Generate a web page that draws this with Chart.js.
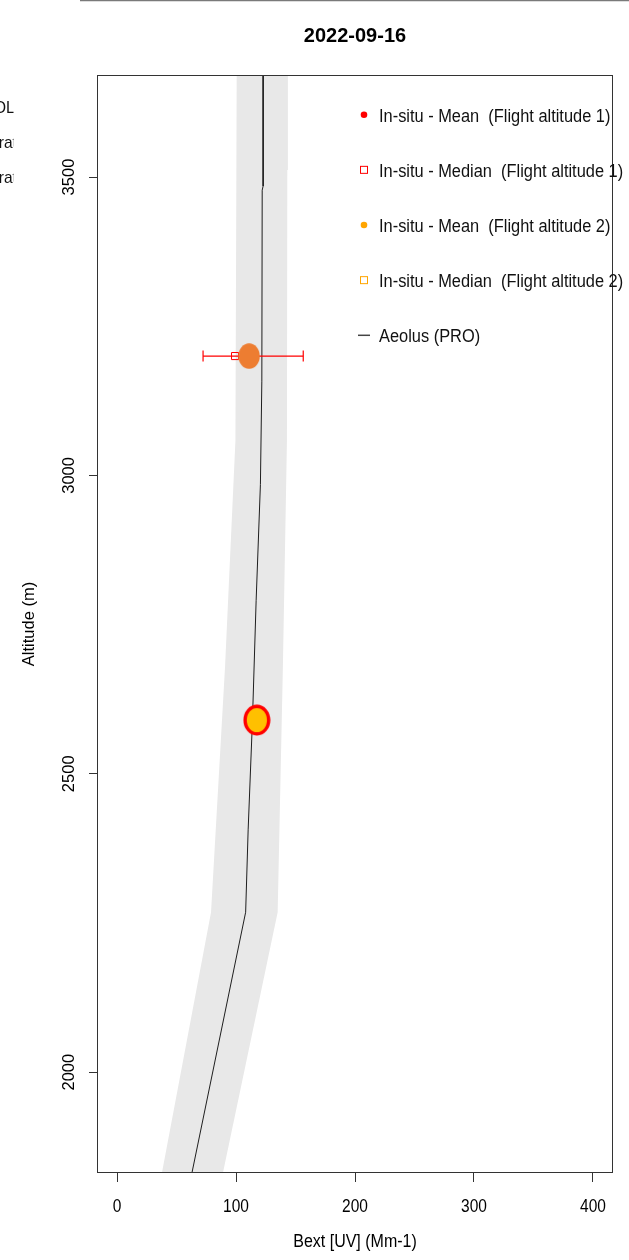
<!DOCTYPE html>
<html>
<head>
<meta charset="utf-8">
<script src="https://cdn.jsdelivr.net/npm/chart.js@4.4.1/dist/chart.umd.min.js"></script>
<style>
  html, body { margin: 0; padding: 0; background: #fff; overflow: hidden; }
  canvas { display: block; }
</style>
</head>
<body>
<canvas id="c" width="629" height="1260"></canvas>
<script>
// ---- labels ----
const chartTitle = '2022-09-16';
const xAxisTitle = 'Bext [UV] (Mm-1)';
const yAxisTitle = 'Altitude (m)';
const xTicks = [0, 100, 200, 300, 400];
const yTicks = [2000, 2500, 3000, 3500];

// ---- Aeolus (PRO) extinction profile ----
const aeolusAlt  = [3760, 3485, 3478, 3158, 2985, 2790, 2589, 2406, 2268, 1760];
const aeolusBext = [122.8, 122.8, 122.0, 121.7, 120.5, 116.9, 113.8, 110.2, 108.1, 55.6];

// ---- Aeolus uncertainty envelope ----
const bandAlt  = [3760, 3512, 3058, 2680, 2268, 1760];
const bandLow  = [100.7, 100.3, 99.5, 90.8, 79.0, 31.0];
const bandHigh = [143.6, 143.1, 142.8, 139.4, 135.0, 81.5];

// ---- in-situ measurements (flight altitude 1, flight altitude 2) ----
const flightAlt     = [3200, 2590];
const insituMean    = [111.0, 117.5];
const insituMedian1 = 99.2;
const insituRange1  = [72.3, 156.5];

// ---- legend ----
const legendLabels = [
  'In-situ - Mean  (Flight altitude 1)',
  'In-situ - Median  (Flight altitude 1)',
  'In-situ - Mean  (Flight altitude 2)',
  'In-situ - Median  (Flight altitude 2)',
  'Aeolus (PRO)'
];
const sideLabels = ['OL', 'ratio', 'ratio'];

const FONT = '"Liberation Sans", Arial, Helvetica, sans-serif';

// elliptical marker image used as a point style
function ellipseMarker(w, h, fill, stroke, lw) {
  const c = document.createElement('canvas');
  c.width = w; c.height = h;
  const g = c.getContext('2d');
  g.beginPath();
  g.ellipse(w / 2, h / 2, w / 2 - (lw ? lw / 2 + 0.5 : 0.3), h / 2 - (lw ? lw / 2 + 0.5 : 0.3), 0, 0, Math.PI * 2);
  g.fillStyle = fill;
  g.fill();
  if (lw) { g.lineWidth = lw; g.strokeStyle = stroke; g.stroke(); }
  return c;
}

const bandPoly = bandAlt.map((a, i) => ({ x: bandLow[i], y: a }))
  .concat(bandAlt.map((a, i) => ({ x: bandHigh[i], y: a })).reverse());
const aeolusPts = aeolusAlt.map((a, i) => ({ x: aeolusBext[i], y: a }));

function drawText(ctx, str, x, y, o) {
  o = Object.assign({ size: 16, bold: false, align: 'center', rot: 0, stretch: 1, color: '#000' }, o || {});
  ctx.save();
  ctx.translate(x, y);
  if (o.rot) ctx.rotate(o.rot);
  ctx.scale(1, o.stretch);
  ctx.font = (o.bold ? 'bold ' : '') + o.size + 'px ' + FONT;
  ctx.fillStyle = o.color;
  ctx.textAlign = o.align;
  ctx.textBaseline = 'alphabetic';
  ctx.fillText(str, 0, 0);
  ctx.restore();
}

const decor = {
  id: 'decor',
  afterDraw(chart) {
    const ctx = chart.ctx;
    const a = chart.chartArea;
    const xs = chart.scales.x, ys = chart.scales.y;
    const cx = (a.left + a.right) / 2;
    const cy = (a.top + a.bottom) / 2;
    ctx.save();

    // frame of the neighbouring panel
    ctx.strokeStyle = '#7a7a7a';
    ctx.lineWidth = 1.5;
    ctx.beginPath(); ctx.moveTo(80, 0.5); ctx.lineTo(629, 0.5); ctx.stroke();

    // leftover legend text of the neighbouring panel
    ctx.save();
    ctx.beginPath(); ctx.rect(0, 0, 13.5, 300); ctx.clip();
    drawText(ctx, sideLabels[0], 14.6, 112.7, { size: 15.5, align: 'right', stretch: 1.08, color: '#111' });
    drawText(ctx, sideLabels[1], -1.2, 147.7, { size: 15.5, align: 'left', stretch: 1.08, color: '#111' });
    drawText(ctx, sideLabels[2], -1.2, 183.3, { size: 15.5, align: 'left', stretch: 1.08, color: '#111' });
    ctx.restore();

    // plot box
    ctx.strokeStyle = '#333';
    ctx.lineWidth = 1;
    ctx.strokeRect(Math.round(a.left) - 0.5, Math.round(a.top) + 0.5,
                   Math.round(a.right - a.left) + 1, Math.round(a.bottom - a.top) - 1);

    // title
    drawText(ctx, chartTitle, cx, 42, { size: 20, bold: true, stretch: 1.05 });

    // x tick labels
    xTicks.forEach(v => drawText(ctx, String(v), xs.getPixelForValue(v), 1212, { size: 15.5, stretch: 1.15 }));
    // y tick labels (rotated)
    yTicks.forEach(v => drawText(ctx, String(v), 74, ys.getPixelForValue(v), { size: 16.5, rot: -Math.PI / 2 }));

    // axis titles
    drawText(ctx, xAxisTitle, cx, 1247, { size: 16, stretch: 1.1 });
    drawText(ctx, yAxisTitle, 34.3, cy, { size: 16.5, rot: -Math.PI / 2 });

    // legend
    const lx = 364, tx = 379, by0 = 121.7, step = 55.15;
    legendLabels.forEach((lab, i) => {
      const by = by0 + i * step;
      const sy = by - 7;
      if (i === 0 || i === 2) {
        ctx.fillStyle = i === 0 ? '#ff0000' : '#ffa500';
        ctx.beginPath(); ctx.arc(lx, sy, 3.3, 0, Math.PI * 2); ctx.fill();
      } else if (i === 1 || i === 3) {
        ctx.strokeStyle = i === 1 ? '#ff0000' : '#ffa500';
        ctx.lineWidth = 1;
        ctx.strokeRect(lx - 3.5, sy - 3.5, 7, 7);
      } else {
        ctx.strokeStyle = '#444';
        ctx.lineWidth = 1.5;
        ctx.beginPath(); ctx.moveTo(lx - 6, sy); ctx.lineTo(lx + 6, sy); ctx.stroke();
      }
      drawText(ctx, lab, tx, by, { size: 16.4, align: 'left', stretch: 1.08, color: '#111' });
    });

    ctx.restore();
  }
};

new Chart(document.getElementById('c'), {
  type: 'scatter',
  data: {
    datasets: [
      {
        label: 'Aeolus uncertainty',
        data: bandPoly,
        showLine: true,
        fill: 'shape',
        backgroundColor: '#e8e8e8',
        borderColor: 'rgba(0,0,0,0)',
        borderWidth: 0,
        pointRadius: 0,
        tension: 0,
        order: 6
      },
      {
        label: 'Aeolus (PRO)',
        data: aeolusPts,
        showLine: true,
        fill: false,
        borderColor: '#1e1e1e',
        borderWidth: 1,
        pointRadius: 0,
        tension: 0,
        order: 5
      },
      {
        label: 'In-situ range (Flight altitude 1)',
        data: insituRange1.map(v => ({ x: v, y: flightAlt[0] })),
        showLine: true,
        borderColor: '#ff0000',
        borderWidth: 1.2,
        pointStyle: 'line',
        pointRotation: 90,
        pointRadius: 5.5,
        pointBorderColor: '#ff0000',
        pointBorderWidth: 1.2,
        order: 4
      },
      {
        label: 'In-situ - Median (Flight altitude 1)',
        data: [{ x: insituMedian1, y: flightAlt[0] }],
        pointStyle: 'rect',
        pointRadius: 5,
        pointBorderColor: '#ff0000',
        pointBackgroundColor: 'rgba(255,255,255,0)',
        pointBorderWidth: 1,
        order: 3
      },
      {
        label: 'In-situ - Mean (Flight altitude 1)',
        data: [{ x: insituMean[0], y: flightAlt[0] }],
        pointStyle: ellipseMarker(22, 26, '#ed7d31'),
        pointRadius: 10,
        order: 2
      },
      {
        label: 'In-situ - Mean (Flight altitude 2)',
        data: [{ x: insituMean[1], y: flightAlt[1] }],
        pointStyle: ellipseMarker(28, 32, '#ffc000', '#ff0000', 3.4),
        pointRadius: 10,
        order: 1
      }
    ]
  },
  options: {
    responsive: false,
    devicePixelRatio: 1,
    animation: false,
    events: [],
    layout: { padding: { top: 75, right: 17, bottom: 0, left: 0 } },
    plugins: { legend: { display: false }, title: { display: false }, tooltip: { enabled: false } },
    scales: {
      x: {
        type: 'linear',
        position: 'bottom',
        min: -16,
        max: 416,
        afterBuildTicks: s => { s.ticks = xTicks.map(v => ({ value: v })); },
        afterFit: s => { s.height = 87; },
        ticks: { display: false },
        grid: { drawOnChartArea: false, drawTicks: true, tickLength: 9, color: '#333', lineWidth: 1 },
        border: { display: false }
      },
      y: {
        type: 'linear',
        position: 'left',
        min: 1831,
        max: 3671,
        afterBuildTicks: s => { s.ticks = yTicks.map(v => ({ value: v })); },
        afterFit: s => { s.width = 98; },
        ticks: { display: false },
        grid: { drawOnChartArea: false, drawTicks: true, tickLength: 9, color: '#333', lineWidth: 1 },
        border: { display: false }
      }
    }
  },
  plugins: [decor]
});
</script>
</body>
</html>
